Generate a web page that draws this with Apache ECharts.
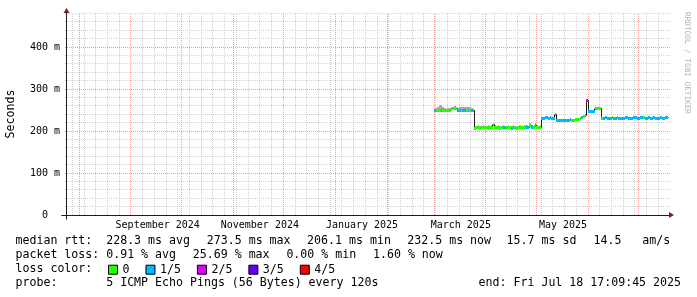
<!DOCTYPE html>
<html><head><meta charset="utf-8">
<script src="https://cdn.jsdelivr.net/npm/echarts@6/dist/echarts.min.js"></script>
<style>html,body{margin:0;padding:0;background:#fff}#c{width:697px;height:297px}</style>
</head><body><div id="c"></div>
<script>
// ---------------- data ----------------
const END_TIME = '2025-07-18T17:09:45Z';
const PLOT_ORIGIN_TIME = '2024-07-24T12:51:00Z';   // time at the y axis
const SAMPLE_START = '2025-03-01';                  // first daily sample
const medianMs = [
249,250,250,250,250,250,250,250,250,250,
251,254,254,254,
250,250,249,250,250,249,250,250,249,249,
207,208,208,207,208,209,208,208,207,208,
208,215,208,209,208,207,208,208,208,209,
208,208,207,208,208,206.1,209,208,208,208,
208,208,209,212,208,208,213,208,208,209,
229,230,231,231,230,231,230,230,240,226,
226,225,226,226,225,226,226,227,226,226,
227,227,228,229,231,234,237,273.5,246,246,
246,246,254,254,254,253,230,230,231,230,
229,230,231,230,230,231,230,230,229,230,
231,231,230,230,230,231,231,230,230,231,
232,231,230,230,231,230,230,231,230,229,
230,231,230,230,231,232.5];
const smokeTopMs = [
252,254,258,262,262,256,254,253,255,254,
256,258,259,257,
254,256,258,257,258,256,258,257,255,253,
211,213,214,212,213,214,212,213,214,213,
214,219,215,213,214,212,213,214,213,212,
214,213,212,214,213,212,213,214,212,213,
214,215,213,218,214,213,219,214,213,214,
232,233,233,232,233,232,232,232,243,228,
228,227,228,228,227,228,228,229,228,228,
229,229,230,231,233,236,239,275,248,248,
248,248,256,257,256,255,232,232,233,232,
231,232,233,232,232,233,232,232,231,232,
233,233,232,232,232,233,233,232,232,233,
234,233,232,232,233,232,232,233,232,231,
232,233,232,232,233,234];
const lossClass = [
1,0,0,0,1,0,0,0,0,0,
0,0,0,0,
1,1,0,1,1,0,1,0,1,1,
0,0,0,0,0,0,0,0,0,0,
0,0,0,0,0,0,0,1,1,0,
0,0,1,0,0,0,0,0,0,0,
0,1,1,0,1,0,1,0,0,0,
1,1,1,1,1,1,1,1,1,1,
1,1,1,1,1,1,1,1,0,0,
0,0,0,0,1,0,1,2,1,1,
1,1,0,0,0,0,0,1,1,1,
1,1,0,1,1,1,1,1,1,1,
1,1,1,1,1,1,1,1,1,1,
1,0,1,1,1,1,1,1,1,1,
1,1,1,1,1,1];
const lossNames = ['0','1/5','2/5','3/5','4/5'];
const lossColors = ['#26ff00','#00b8ff','#dd00ff','#5e00ff','#ff0000'];
const yTickValues = [0,100,200,300,400];
const yMinorStep = 20, yGridTop = 480;
const monthLabels = ['September 2024','November 2024','January 2025','March 2025','May 2025'];
const monthLabelStarts = ['2024-09-01','2024-11-01','2025-01-01','2025-03-01','2025-05-01'];
const rttStatValues = [228.3, 273.5, 206.1, 232.5, 15.7, 14.5];
const rttStatUnits = ['ms avg','ms max','ms min','ms now','ms sd','  am/s'];
const lossStatValues = [0.91, 25.69, 0.00, 1.60];
const lossStatUnits = ['% avg','% max','% min','% now'];
const probeText = '5 ICMP Echo Pings (56 Bytes) every 120s';
const endText = 'end: Fri Jul 18 17:09:45 2025';

// ---------------- layout ----------------
const W = 697, H = 297;
const LAY = {gridL:62, gridR:669, gridT:13, gridB:219, originX:66.5, originY:215, endX:668, pxPerMs:0.42};
const FONT = '"DejaVu Sans Mono", monospace';
const LEG_FS = 11.6, AX_FS = 10, CHAR_W = 6.98, ITEM_GAP = 16.8;
const C_MINOR = 'rgba(150,150,150,0.42)', C_MAJOR = 'rgba(222,79,79,0.55)';
const C_ARROW = '#801f1f', C_AXIS = '#1f1f1f';

const DAY = 86400000;
const T_END = Date.parse(END_TIME);
const T0 = Date.parse(PLOT_ORIGIN_TIME);
const toX = t => (t - T0) / DAY;
const pxPerDay = (LAY.endX - LAY.originX) / toX(T_END);
const xMin = -(LAY.originX - LAY.gridL) / pxPerDay;
const xMax = (LAY.gridR - LAY.originX) / pxPerDay;
const yMin = -(LAY.gridB - LAY.originY) / LAY.pxPerMs;
const yMax = (LAY.originY - LAY.gridT) / LAY.pxPerMs;

const s0 = Date.parse(SAMPLE_START + 'T00:00:00Z');
const samples = medianMs.map((m, i) => ({
  xs: toX(s0 + i * DAY),
  xe: toX(Math.min(s0 + (i + 1) * DAY, T_END)),
  m, top: smokeTopMs[i], loss: lossClass[i],
  next: i + 1 < medianMs.length ? medianMs[i + 1] : m
}));

// grid line positions (calendar)
const vLines = [];
for (let t = Date.UTC(2024, 6, 28); t < T_END; t += 7 * DAY) {
  if (new Date(t).getUTCDate() !== 1) vLines.push([toX(t), 0]);
}
for (let k = 0; k < 12; k++) {
  const t = Date.UTC(2024, 7 + k, 1);
  if (t > T0 && t < T_END) vLines.push([toX(t), 1]);
}
const hLines = [];
for (let v = yMinorStep; v <= yGridTop; v += yMinorStep) hLines.push([v, yTickValues.includes(v) ? 1 : 0]);
hLines.sort((a, b) => a[1] - b[1]);
const labelX = monthLabelStarts.map(s => toX(Date.parse(s + 'T00:00:00Z') + 16 * DAY));

const px5 = v => Math.floor(v) + 0.5;

const seriesList = [
  { // vertical grid
    type: 'custom', name: 'vgrid', z: 0, silent: true,
    data: vLines,
    renderItem: (p, api) => {
      const x = api.value(0), kind = api.value(1);
      const a = api.coord([x, 0]), b = api.coord([x, yGridTop]);
      const X = px5(a[0]);
      return {type: 'line', shape: {x1: X, y1: Math.floor(a[1]), x2: X, y2: Math.floor(b[1])},
        style: {stroke: kind ? C_MAJOR : C_MINOR, lineWidth: 1, lineDash: [1, 1]}};
    }
  },
  { // horizontal grid
    type: 'custom', name: 'hgrid', z: 0, silent: true,
    data: hLines,
    renderItem: (p, api) => {
      const v = api.value(0), kind = api.value(1);
      const a = api.coord([0, v]), b = api.coord([toX(T_END), v]);
      const Y = px5(a[1]);
      return {type: 'line', shape: {x1: Math.round(a[0]) - 2, y1: Y, x2: Math.round(b[0]) + 2, y2: Y},
        style: {stroke: kind ? C_MAJOR : C_MINOR, lineWidth: 1, lineDash: [1, 1]}};
    }
  },
  { // smoke
    type: 'custom', name: 'smoke', z: 3, silent: true,
    data: samples.map(s => [s.xs, s.xe, s.m, s.top]),
    renderItem: (p, api) => {
      const a = api.coord([api.value(0), api.value(3)]), b = api.coord([api.value(1), api.value(2)]);
      const x0 = Math.round(a[0]), x1 = Math.round(b[0]);
      const y0 = Math.round(a[1]), y1 = Math.round(b[1]);
      return {type: 'rect', shape: {x: x0, y: y0, width: Math.max(1, x1 - x0), height: y1 - y0},
        style: {fill: '#a8a8a8'}};
    }
  },
  { // median line
    type: 'custom', name: 'median', z: 4, silent: true,
    data: samples.map(s => [s.xs, s.xe, s.m, s.next]),
    renderItem: (p, api) => {
      const a = api.coord([api.value(0), api.value(2)]), b = api.coord([api.value(1), api.value(2)]);
      const c = api.coord([api.value(1), api.value(3)]);
      const X0 = Math.round(a[0]), X1 = px5(b[0]);
      const Y0 = px5(a[1]), Y1 = px5(c[1]);
      return {type: 'polyline', shape: {points: [[X0, Y0], [X1, Y0], [X1, Y1]]},
        style: {stroke: '#202020', lineWidth: 1, fill: null}};
    }
  }
];
lossNames.forEach((name, k) => {
  seriesList.push({
    type: 'custom', name, z: 5, silent: true,
    itemStyle: {color: lossColors[k]},
    data: samples.filter(s => s.loss === k).map(s => [s.xs, s.xe, s.m]),
    renderItem: (p, api) => {
      const a = api.coord([api.value(0), api.value(2)]), b = api.coord([api.value(1), api.value(2)]);
      const x0 = Math.round(a[0]), x1 = Math.round(b[0]);
      const yt = Math.round(a[1] - 1.5);
      return {type: 'rect', shape: {x: x0, y: yt, width: Math.max(1, x1 - x0), height: 3},
        style: {fill: lossColors[k]}};
    }
  });
});

const txt = (text, x, y, extra) => Object.assign({type: 'text', x, y, silent: true,
  style: {text, font: LEG_FS + 'px ' + FONT, fill: '#000', verticalAlign: 'middle', align: 'left'}}, extra || {});

// place a row of legend items one after another with a fixed gap
const rowCols = (start, texts) => {
  const xs = []; let x = start;
  texts.forEach(t => { xs.push(x); x += t.length * CHAR_W + ITEM_GAP; });
  return xs;
};

const ROW = [241, 255, 269, 283];
const labelLeft = 15.5, firstCol = 106.2;
const rttTexts = rttStatValues.map((v, i) => v.toFixed(1) + ' ' + rttStatUnits[i]);
const lossTexts = lossStatValues.map((v, i) => v.toFixed(2) + ' ' + lossStatUnits[i]);
const rttCols = [106.2, 206.8, 307.1, 407.3, 506.6, 593.5];
const lossCols = rowCols(firstCol, lossTexts);
const graphics = [
  txt('median rtt:', labelLeft, ROW[0]),
  txt('packet loss:', labelLeft, ROW[1]),
  txt('loss color:', labelLeft, ROW[2]),
  txt('probe:', labelLeft, ROW[3]),
  txt(probeText, firstCol, ROW[3]),
  {type: 'text', x: 681, y: ROW[3], silent: true,
    style: {text: endText, font: LEG_FS + 'px ' + FONT, fill: '#000', verticalAlign: 'middle', align: 'right'}},
  {type: 'text', x: 11, y: 114, rotation: Math.PI / 2, silent: true,
    style: {text: 'Seconds', font: LEG_FS + 'px ' + FONT, fill: '#000', verticalAlign: 'middle', align: 'center'}},
  {type: 'text', x: 686.5, y: 63, rotation: -Math.PI / 2, silent: true,
    style: {text: 'RRDTOOL / TOBI OETIKER', font: '7.7px ' + FONT, fill: '#b0b0b0', verticalAlign: 'middle', align: 'center'}}
];
rttTexts.forEach((t, i) => graphics.push(txt(t, rttCols[i], ROW[0])));
lossTexts.forEach((t, i) => graphics.push(txt(t, lossCols[i], ROW[1])));

const axisCommon = (dimMin, dimMax) => ({type: 'value', min: dimMin, max: dimMax, splitLine: {show: false}, axisTick: {show: false}});

const option = {
  animation: false,
  backgroundColor: '#fff',
  grid: {left: LAY.gridL, top: LAY.gridT, width: LAY.gridR - LAY.gridL, height: LAY.gridB - LAY.gridT, containLabel: false},
  xAxis: [
    Object.assign(axisCommon(xMin, xMax), {position: 'bottom', z: 1,
      axisLine: {show: true, onZero: true, lineStyle: {color: C_ARROW, width: 1}, symbol: ['none', 'triangle'], symbolSize: [6, 5], symbolOffset: [0, 2.5]},
      axisLabel: {show: false}}),
    Object.assign(axisCommon(xMin, xMax), {position: 'bottom', z: 2,
      axisLine: {show: true, onZero: true, lineStyle: {color: C_AXIS, width: 1}},
      axisLabel: {show: true, customValues: labelX, margin: 1, fontSize: AX_FS, fontFamily: FONT, color: '#000',
        formatter: v => { let best = 0; labelX.forEach((lx, i) => { if (Math.abs(lx - v) < Math.abs(labelX[best] - v)) best = i; }); return monthLabels[best]; }}})
  ],
  yAxis: [
    Object.assign(axisCommon(yMin, yMax), {position: 'left', z: 1,
      axisLine: {show: true, onZero: true, lineStyle: {color: C_ARROW, width: 1}, symbol: ['none', 'triangle'], symbolSize: [6, 5], symbolOffset: [0, 2.5]},
      axisLabel: {show: false}}),
    Object.assign(axisCommon(yMin, yMax), {position: 'left', z: 2,
      axisLine: {show: true, onZero: true, lineStyle: {color: C_AXIS, width: 1}},
      axisLabel: {show: true, customValues: yTickValues, margin: 2, fontSize: AX_FS, fontFamily: FONT, color: '#000',
        formatter: v => v === 0 ? '  0  ' : Math.round(v) + ' m'}})
  ],
  legend: {data: lossNames, left: 108, top: 263.7, padding: 0, itemWidth: 9, itemHeight: 9, itemGap: 16,
    icon: 'rect', selectedMode: false, itemStyle: {borderColor: '#000', borderWidth: 1},
    textStyle: {fontFamily: FONT, fontSize: LEG_FS, color: '#000'}},
  series: seriesList,
  graphic: graphics
};
const chart = echarts.init(document.getElementById('c'), null, {renderer: 'canvas', width: W, height: H, devicePixelRatio: 1});
chart.setOption(option);
</script></body></html>
